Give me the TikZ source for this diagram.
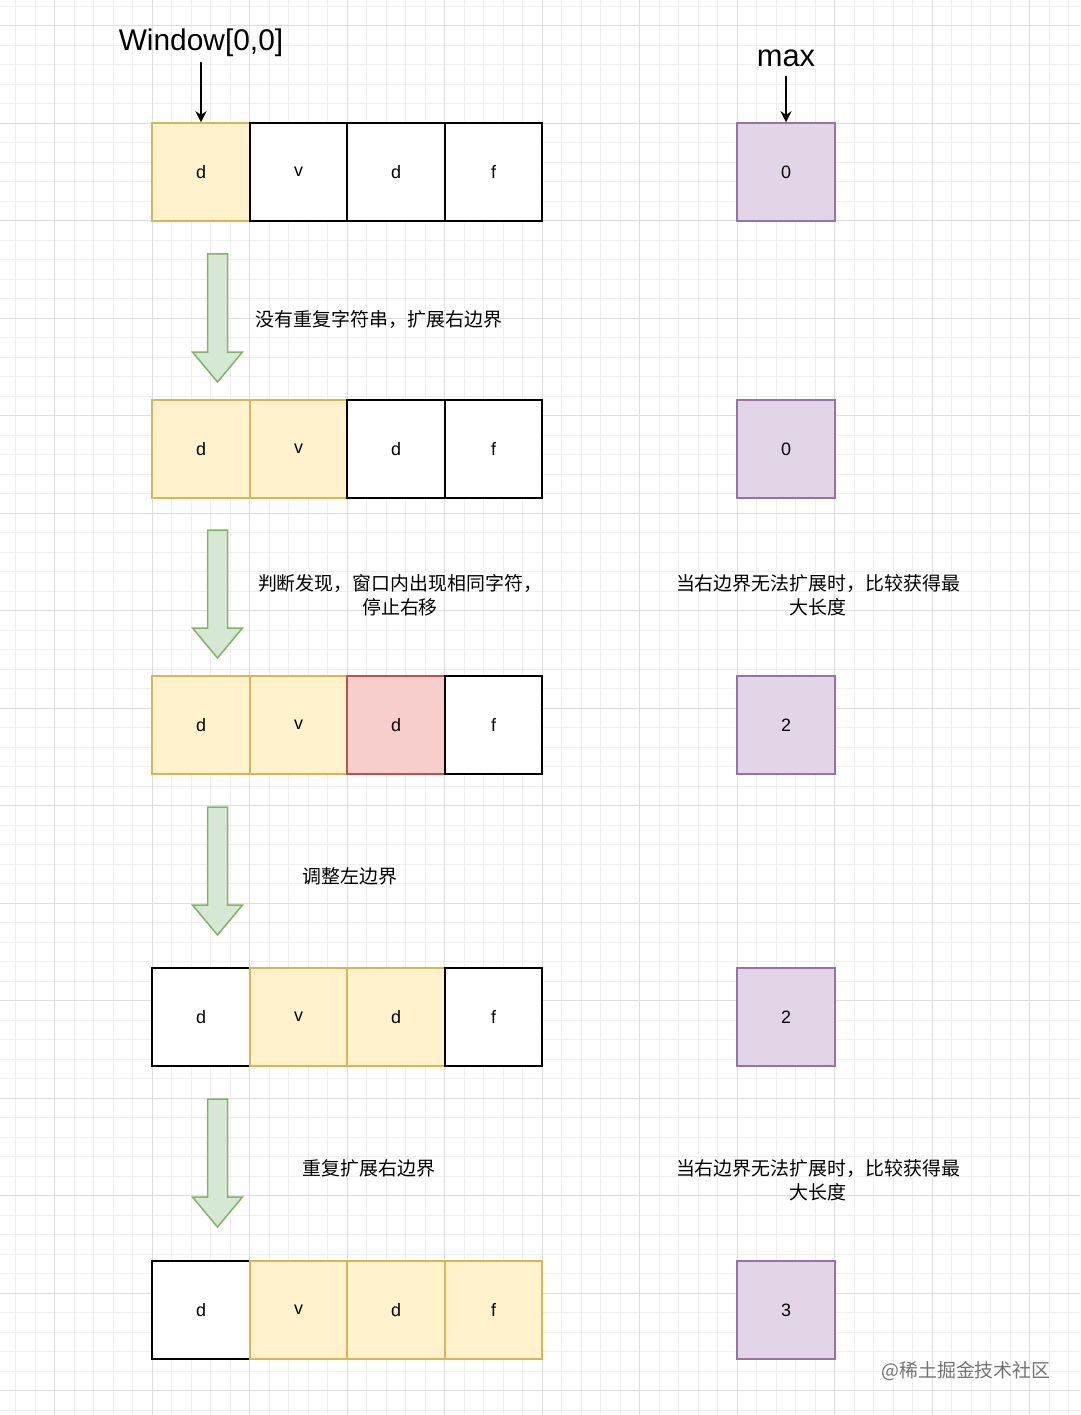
\documentclass[tikz,border=0pt]{standalone}
\usepackage{fontspec}
\setmainfont{Liberation Sans}
\newfontfamily\cjk{Noto Sans CJK SC}
\usetikzlibrary{arrows.meta}
\definecolor{yf}{HTML}{FFF2CC}\definecolor{ys}{HTML}{D6B656}
\definecolor{rf}{HTML}{F8CECC}\definecolor{rs}{HTML}{B85450}
\definecolor{pf}{HTML}{E1D5E7}\definecolor{ps}{HTML}{9673A6}
\definecolor{gf}{HTML}{D5E8D4}\definecolor{gs}{HTML}{82B366}
\definecolor{gmin}{HTML}{EFEFEF}\definecolor{gmaj}{HTML}{DDDDDD}
\begin{document}
\begin{tikzpicture}[x=1bp,y=-1bp,
 cell/.style={draw=black,line width=2bp,fill=white,minimum width=97.5bp,minimum height=97.5bp,inner sep=0,font=\fontsize{18}{18}\selectfont},
 yc/.style={cell,draw=ys,fill=yf},
 rc/.style={cell,draw=rs,fill=rf},
 pc/.style={cell,draw=ps,fill=pf},
 lbl/.style={font=\cjk\fontsize{19}{24}\selectfont,align=center,inner sep=0},
 big/.style={draw=gs,fill=gf,line width=1.5bp},
 ptr/.style={-{Stealth[length=11bp,width=11bp]},line width=2bp}]
\fill[white] (0,0) rectangle (1080,1415);
\useasboundingbox (0,0) rectangle (1080,1415);
\foreach \i in {-7,...,47} {\draw[gmin,line width=0.8bp] (152+19.5*\i,0) -- (152+19.5*\i,1415);}
\foreach \i in {-7,...,66} {\draw[gmin,line width=0.8bp] (0,123+19.5*\i) -- (1080,123+19.5*\i);}
\foreach \i in {-1,...,9} {\draw[gmaj,line width=0.9bp] (152+97.5*\i,0) -- (152+97.5*\i,1415);}
\foreach \i in {-2,...,13} {\draw[gmaj,line width=0.9bp] (0,123+97.5*\i) -- (1080,123+97.5*\i);}
\def\row#1#2#3#4#5#6#7{%
 \node[#2] (r#1a) at (201,#7) {d};
 \node[#3] (r#1b) at (298.5,#7) {v};
 \node[#4] (r#1c) at (396,#7) {d};
 \node[#5] (r#1d) at (493.5,#7) {f};
 \node[pc] (m#1) at (786,#7) {#6};}
\row{1}{yc}{cell}{cell}{cell}{0}{172}
\row{2}{yc}{yc}{cell}{cell}{0}{449}
\row{3}{yc}{yc}{rc}{cell}{2}{725}
\row{4}{cell}{yc}{yc}{cell}{2}{1017}
\row{5}{cell}{yc}{yc}{yc}{3}{1310}
\node[font=\fontsize{30}{30}\selectfont,inner sep=0] (win) at (201,43) {Window[0,0]};
\node[font=\fontsize{31}{31}\selectfont,inner sep=0] (max) at (786,58) {max};
\draw[ptr] (201,62) -- (r1a.north);
\draw[ptr] (786,76) -- (m1.north);
\foreach \t in {254,530,807,1099} {
 \draw[big] (207.5,\t) -- (227.5,\t) -- (227.5,\t+98) -- (242.5,\t+98) -- (217.5,\t+128) -- (192.5,\t+98) -- (207.5,\t+98) -- cycle;}
\node[lbl] (t1) at (379,319) {没有重复字符串，扩展右边界};
\node[lbl] (t2) at (400,595) {判断发现，窗口内出现相同字符，\\停止右移};
\node[lbl] (t3) at (350,876) {调整左边界};
\node[lbl] (t4) at (369,1168) {重复扩展右边界};
\node[lbl] (t5) at (818,595) {当右边界无法扩展时，比较获得最\\大长度};
\node[lbl] (t6) at (818,1180) {当右边界无法扩展时，比较获得最\\大长度};
\node[lbl,text=black!55] (wm) at (966,1371) {@稀土掘金技术社区};
\end{tikzpicture}
\end{document}
